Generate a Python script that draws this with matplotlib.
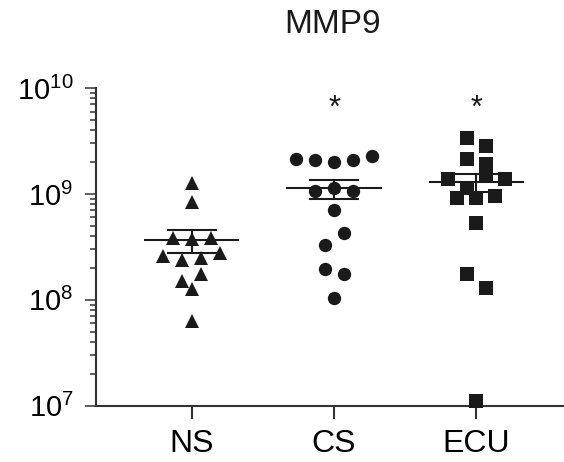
import matplotlib
matplotlib.use("Agg")
import matplotlib.pyplot as plt
import numpy as np
from matplotlib.ticker import LogLocator, NullFormatter, FixedLocator

plt.rcParams['font.family'] = ['Liberation Sans', 'DejaVu Sans']
plt.rcParams['mathtext.fontset'] = 'custom'
plt.rcParams['mathtext.rm'] = 'Liberation Sans'

title = 'MMP9'
groups = ['NS', 'CS', 'ECU']
markers = ['^', 'o', 's']
significant = [False, True, True]

# values per group (listed left to right as they sit in each row)
ns_values = [2.59e8, 3.85e8, 1.51e8, 2.37e8, 1.26e8, 6.3e7, 1.27e9, 8.3e8, 3.78e8,
             2.50e8, 3.85e8, 1.74e8, 2.79e8]
cs_values = [2.15e9, 1.06e9, 2.07e9, 3.27e8, 1.94e8, 2.00e9, 1.14e9, 7.1e8, 1.05e8,
             4.3e8, 1.77e8, 2.10e9, 1.06e9, 2.26e9]
ecu_values = [1.38e9, 1.14e9, 2.13e9, 3.37e9, 1.74e8, 9.2e8, 1.47e9, 5.3e8, 1.1e7,
              1.28e8, 9.2e8, 2.81e9, 1.91e9, 9.5e8, 1.38e9]
all_values = [ns_values, cs_values, ecu_values]

ink = '#1a1a1a'
axis_col = '#333333'


def spread_rows(ax, values, spacing=19, row_height=14.5):
    """Spread points of similar value side by side (in pixels), like a Prism dot plot."""
    values = np.asarray(values, dtype=float)
    ypx = ax.transData.transform(np.column_stack([np.zeros_like(values), values]))[:, 1]
    xscale = ax.transData.transform((1, 1))[0] - ax.transData.transform((0, 1))[0]
    offsets = np.zeros(len(values))
    rows, current = [], []
    for i in np.argsort(-ypx, kind='stable'):
        if current and ypx[current[0]] - ypx[i] >= row_height:
            rows.append(current)
            current = []
        current.append(i)
    rows.append(current)
    for row in rows:
        row = sorted(row)
        for k, i in enumerate(row):
            offsets[i] = (k - (len(row) - 1) / 2) * spacing / xscale
    return offsets


fig = plt.figure(figsize=(5.64, 4.62), dpi=100)
ax = fig.add_axes([0.1702, 0.1219, 0.8298, 0.6876])
ax.set_yscale('log')
ax.set_ylim(1e7, 1e10)
ax.set_xlim(-0.6725, 2.616)

for i, vals in enumerate(all_values):
    offs = spread_rows(ax, vals)
    ax.plot(i + offs, vals, linestyle='none', marker=markers[i],
            markersize=10 if markers[i] == '^' else 9.6,
            color=ink, markeredgewidth=0, clip_on=False, zorder=3)
    v = np.asarray(vals)
    mean = v.mean()
    sem = v.std(ddof=1) / np.sqrt(len(v))
    ax.hlines(mean, i - 0.335, i + 0.335, color=ink, linewidth=1.5, zorder=4)
    ax.errorbar(i, mean, yerr=sem, fmt='none', ecolor=ink, elinewidth=1.5,
                capsize=18, capthick=1.5, zorder=4)
    if significant[i]:
        ax.text(i, 10 ** 9.80, '*', ha='center', va='center', fontsize=22, color=ink)

ax.spines['top'].set_visible(False)
ax.spines['right'].set_visible(False)
for s in ['left', 'bottom']:
    ax.spines[s].set_color(axis_col)
    ax.spines[s].set_linewidth(1.5)

ax.yaxis.set_major_locator(LogLocator(base=10, numticks=10))
ax.yaxis.set_minor_locator(LogLocator(base=10, subs=np.arange(2, 10), numticks=20))
ax.yaxis.set_minor_formatter(NullFormatter())
ax.xaxis.set_major_locator(FixedLocator(range(len(groups))))
ax.set_xticklabels(groups)

ax.tick_params(axis='y', which='major', length=7.7, width=1.1, color=axis_col,
               labelsize=21, pad=8.5)
ax.tick_params(axis='y', which='minor', length=4.3, width=1.1, color=axis_col)
ax.tick_params(axis='x', which='major', length=9, width=1.5, color=axis_col,
               labelsize=23, pad=8)
ax.tick_params(axis='x', which='minor', bottom=False)

fig.text(0.59, 1 - 33 / 462, title, ha='center', va='baseline', fontsize=24, color=ink)

fig.savefig('out.png', dpi=100)
